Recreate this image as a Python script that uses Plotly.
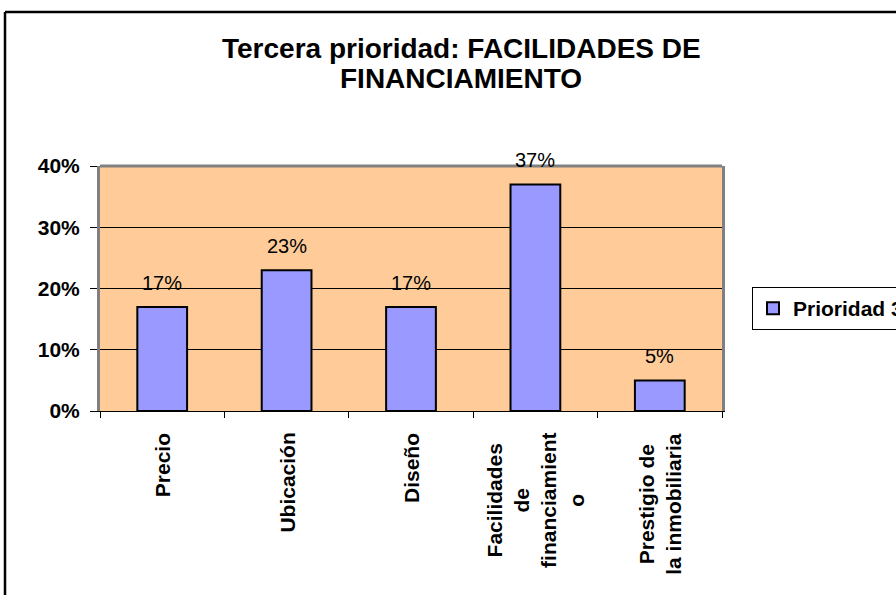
import plotly.graph_objects as go

categories = ["Precio", "Ubicación", "Diseño", "Facilidades de financiamiento", "Prestigio de la inmobiliaria"]
category_labels = ["Precio", "Ubicación", "Diseño", "Facilidades<br>de<br>financiamient<br>o", "Prestigio de<br>la inmobiliaria"]
values = [17, 23, 17, 37, 5]
value_labels = ["17%", "23%", "17%", "37%", "5%"]
y_ticks = [0, 10, 20, 30, 40]
y_tick_labels = ["0%", "10%", "20%", "30%", "40%"]
series_name = "Prioridad 3"
title_lines = ["Tercera prioridad: FACILIDADES DE", "FINANCIAMIENTO"]

FONT = "Liberation Sans, Arial, sans-serif"
W, H = 896, 595
L, R, T, B = 100, 174, 166, 184
PW, PH = W - L - R, H - T - B


def px_x(x):
    return (x - L) / PW


def px_y(y):
    return (H - B - y) / PH


fig = go.Figure()
fig.add_trace(go.Bar(
    x=categories, y=values, name=series_name,
    marker=dict(color="#9999FF", line=dict(color="black", width=2)),
    width=0.4, showlegend=True,
))

annotations = []
for c, v, t in zip(categories, values, value_labels):
    annotations.append(dict(x=c, y=v, xref="x", yref="y", text=t, showarrow=False,
                            yanchor="bottom", yshift=11,
                            font=dict(family=FONT, size=20, color="black")))
for c, t in zip(categories, category_labels):
    annotations.append(dict(x=c, y=0, xref="x", yref="y", text="<b>" + t + "</b>", showarrow=False,
                            textangle=-90, yanchor="top", xanchor="center", yshift=-20, align="center",
                            font=dict(family=FONT, size=21, color="black")))
for i, line in enumerate(title_lines):
    annotations.append(dict(x=px_x(461), y=px_y(48 + 31 * i), xref="paper", yref="paper",
                            text="<b>" + line + "</b>", showarrow=False,
                            xanchor="center", yanchor="middle",
                            font=dict(family=FONT, size=28, color="black")))

fig.update_layout(
    width=W, height=H,
    margin=dict(l=L, r=R, t=T, b=B, autoexpand=False),
    paper_bgcolor="white", plot_bgcolor="#FFCC99",
    annotations=annotations,
    showlegend=True,
    legend=dict(x=px_x(752), xanchor="left", y=px_y(287), yanchor="top", bordercolor="black", borderwidth=1,
                bgcolor="white", itemwidth=30,
                font=dict(family=FONT, size=21, color="black", weight="bold")),
)
fig.update_xaxes(type="category", showticklabels=False, ticks="outside", tickson="boundaries",
                 ticklen=6, tickcolor="black", showline=True, linecolor="black", linewidth=1,
                 showgrid=False, mirror=False, fixedrange=True)
fig.update_yaxes(range=[0, 40], tickvals=y_ticks, ticktext=y_tick_labels, ticks="outside", ticklen=7,
                 tickcolor="black", showline=True, linecolor="#808080", linewidth=3, mirror=True,
                 showgrid=True, gridcolor="black", gridwidth=1, zeroline=False,
                 ticklabelstandoff=6,
                 tickfont=dict(family=FONT, size=21, color="black", weight="bold"))

# gray top edge of plot area
fig.add_shape(type="line", xref="paper", yref="paper", x0=0, x1=1, y0=1, y1=1,
              line=dict(color="#808080", width=3))
# outer chart border (left and top edges visible)
fig.add_shape(type="line", xref="paper", yref="paper", x0=px_x(5), x1=px_x(5),
              y0=px_y(600), y1=px_y(12), line=dict(color="black", width=2.5))
fig.add_shape(type="line", xref="paper", yref="paper", x0=px_x(5), x1=px_x(900),
              y0=px_y(12), y1=px_y(12), line=dict(color="black", width=2.5))

fig.write_html("out.html", config={"displayModeBar": False},
               post_script="document.body.style.margin='0px';")
